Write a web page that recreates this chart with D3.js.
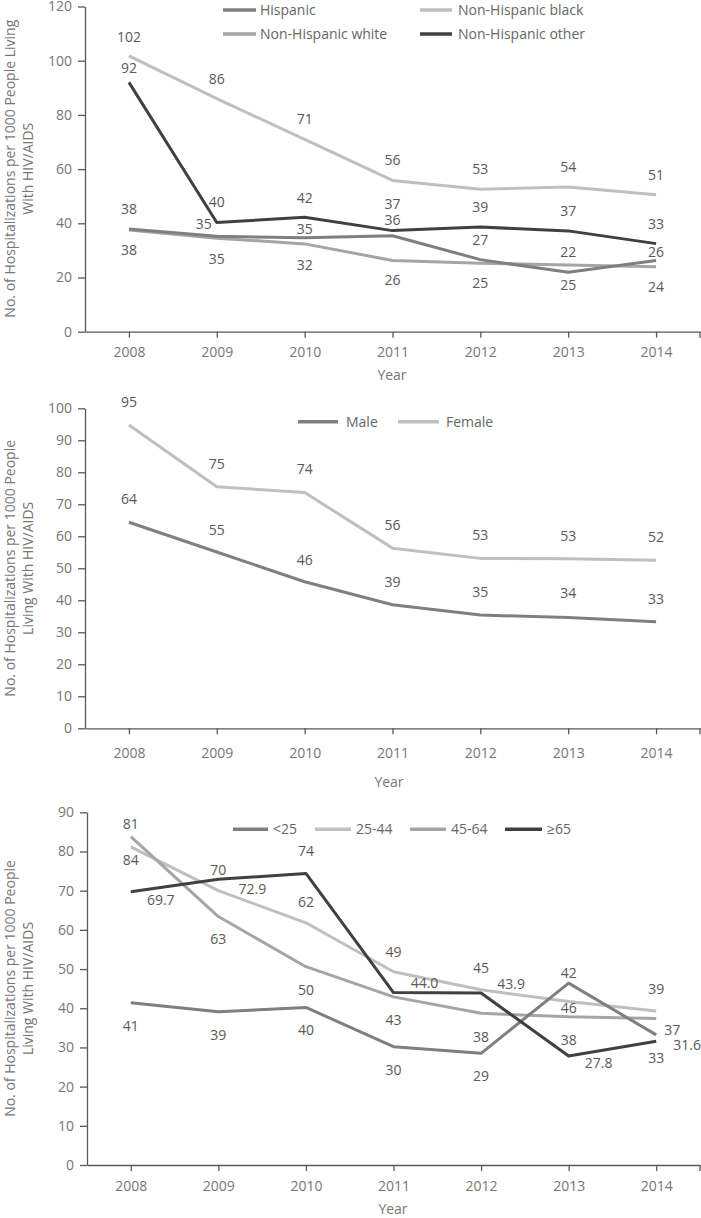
<!DOCTYPE html>
<html>
<head>
<meta charset="utf-8">
<script src="https://cdn.jsdelivr.net/npm/d3@7/dist/d3.min.js"></script>
<style>
  html, body { margin: 0; padding: 0; background: #fff; }
  svg { display: block; font-family: "Open Sans", "DejaVu Sans", sans-serif; }
</style>
</head>
<body>
<svg id="chart" width="701" height="1218"></svg>
<script>
// ---------------- DATA ----------------
const years = ["2008", "2009", "2010", "2011", "2012", "2013", "2014"];

// Panel 1: race / ethnicity
const raceSeries = ["Hispanic", "Non-Hispanic black", "Non-Hispanic white", "Non-Hispanic other"];
const hispanic        = [37.9, 35.2, 34.7, 35.4, 26.6, 21.9, 26.3];
const nhBlack         = [101.8, 86.0, 71.0, 55.8, 52.6, 53.4, 50.5];
const nhWhite         = [37.5, 34.5, 32.4, 26.3, 25.3, 24.6, 24.0];
const nhOther         = [92.0, 40.3, 42.2, 37.3, 38.6, 37.2, 32.5];
const hispanicLabels  = ["38", "35", "35", "36", "27", "22", "26"];
const nhBlackLabels   = ["102", "86", "71", "56", "53", "54", "51"];
const nhWhiteLabels   = ["38", "35", "32", "26", "25", "25", "24"];
const nhOtherLabels   = ["92", "40", "42", "37", "39", "37", "33"];
const raceTicks = [0, 20, 40, 60, 80, 100, 120];

// Panel 2: sex
const sexSeries = ["Male", "Female"];
const male          = [64.4, 55.1, 45.8, 38.6, 35.4, 34.6, 33.3];
const female        = [94.8, 75.5, 73.7, 56.3, 53.1, 53.0, 52.5];
const maleLabels    = ["64", "55", "46", "39", "35", "34", "33"];
const femaleLabels  = ["95", "75", "74", "56", "53", "53", "52"];
const sexTicks = [0, 10, 20, 30, 40, 50, 60, 70, 80, 90, 100];

// Panel 3: age
const ageSeries = ["<25", "25-44", "45-64", "\u226565"];
const ageU25      = [41.4, 39.1, 40.2, 30.2, 28.5, 46.4, 33.2];
const age2544     = [81.2, 70.0, 61.8, 49.3, 44.7, 41.7, 39.3];
const age4564     = [83.8, 63.4, 50.6, 42.9, 38.7, 37.8, 37.4];
const age65       = [69.7, 72.9, 74.4, 44.0, 43.9, 27.8, 31.6];
const ageU25Labels  = ["41", "39", "40", "30", "29", "46", "33"];
const age2544Labels = ["84", "70", "62", "49", "45", "42", "39"];
const age4564Labels = ["81", "63", "50", "43", "38", "38", "37"];
const age65Labels   = ["69.7", "72.9", "74", "44.0", "43.9", "27.8", "31.6"];
const ageTicks = [0, 10, 20, 30, 40, 50, 60, 70, 80, 90];

// ---------------- LAYOUT / STYLE (kept apart from data) ----------------
const C_MID = "#7f7f7f", C_LIGHT = "#bfbfbf", C_MID2 = "#a5a5a5", C_DARK = "#404040";

const panels = [
  {
    left: 85, right: 700, top: 6.5, bottom: 331.7, yMax: 120, ticks: raceTicks,
    xLabelY: 352.5, yearY: 375.5, yearX: 392,
    titleLines: ["No. of Hospitalizations per 1000 People Living", "With HIV/AIDS"],
    titleX: [10, 28], titleY: 168.7,
    series: [
      { name: raceSeries[0], values: hispanic, labels: hispanicLabels, color: C_MID,
        off: [[0,-20],[-13,-12],[0,-9],[0,-16],[0,-20],[0,-20],[0,-8]] },
      { name: raceSeries[1], values: nhBlack, labels: nhBlackLabels, color: C_LIGHT,
        off: [[0,-19],[0,-20],[0,-20],[0,-20],[0,-20],[0,-20],[0,-20]] },
      { name: raceSeries[2], values: nhWhite, labels: nhWhiteLabels, color: C_MID2,
        off: [[0,20],[0,21],[0,21],[0,20],[0,20],[0,20],[0,20]] },
      { name: raceSeries[3], values: nhOther, labels: nhOtherLabels, color: C_DARK,
        off: [[0,-14],[0,-20],[0,-19],[0,-27],[0,-20],[0,-20],[0,-20]] }
    ],
    drawOrder: [1, 2, 0, 3],
    legend: [
      { s: 0, x1: 223, x2: 256, tx: 260, y: 10 },
      { s: 1, x1: 420, x2: 452, tx: 458, y: 10 },
      { s: 2, x1: 223, x2: 256, tx: 260, y: 34 },
      { s: 3, x1: 420, x2: 452, tx: 458, y: 34 }
    ]
  },
  {
    left: 85, right: 700, top: 408.3, bottom: 728.3, yMax: 100, ticks: sexTicks,
    xLabelY: 753.3, yearY: 781.7, yearX: 389,
    titleLines: ["No. of Hospitalizations per 1000 People", "Living With HIV/AIDS"],
    titleX: [10, 28], titleY: 568.3,
    series: [
      { name: sexSeries[0], values: male, labels: maleLabels, color: C_MID,
        off: [[0,-23],[0,-22],[0,-22],[0,-23],[0,-23],[0,-24],[0,-23]] },
      { name: sexSeries[1], values: female, labels: femaleLabels, color: C_LIGHT,
        off: [[0,-23],[0,-23],[0,-23],[0,-23],[0,-23],[0,-23],[0,-23]] }
    ],
    drawOrder: [1, 0],
    legend: [
      { s: 0, x1: 298, x2: 338, tx: 346, y: 421.7 },
      { s: 1, x1: 398, x2: 439, tx: 446, y: 421.7 }
    ]
  },
  {
    left: 87, right: 700, top: 812.3, bottom: 1165, yMax: 90, ticks: ageTicks,
    xLabelY: 1186, yearY: 1209.5, yearX: 393,
    titleLines: ["No. of Hospitalizations per 1000 People", "Living With HIV/AIDS"],
    titleX: [10, 28], titleY: 988.5,
    series: [
      { name: ageSeries[0], values: ageU25, labels: ageU25Labels, color: C_MID,
        off: [[0,23],[0,23],[0,23],[0,23],[0,23],[0,25],[0,23]] },
      { name: ageSeries[1], values: age2544, labels: age2544Labels, color: C_LIGHT,
        off: [[0,13],[0,-21],[0,-21],[0,-20],[0,-22],[0,-28],[0,-22]] },
      { name: ageSeries[2], values: age4564, labels: age4564Labels, color: C_MID2,
        off: [[0,-12],[0,23],[0,23],[0,23],[0,24],[0,23],[16,12]] },
      { name: ageSeries[3], values: age65, labels: age65Labels, color: C_DARK,
        off: [[30,8],[34,10],[0,-22],[31,-9],[30,-9],[30,7],[31,4]] }
    ],
    drawOrder: [1, 2, 0, 3],
    legend: [
      { s: 0, x1: 233, x2: 268, tx: 273, y: 829.3 },
      { s: 1, x1: 315, x2: 351, tx: 356, y: 829.3 },
      { s: 2, x1: 410, x2: 446, tx: 451, y: 829.3 },
      { s: 3, x1: 505, x2: 542, tx: 547, y: 829.3 }
    ]
  }
];

// ---------------- DRAW ----------------
const svg = d3.select("#chart");
const AXIS_COLOR = "#595959";
const TICK_TEXT = "#767676";
const LABEL_TEXT = "#595959";
const FONT = 14;

panels.forEach(p => {
  const g = svg.append("g");
  const x = d3.scalePoint().domain(years).range([p.left, p.right]).padding(0.5);
  const y = d3.scaleLinear().domain([0, p.yMax]).range([p.bottom, p.top]);

  // y axis
  const yAxis = g.append("g")
    .attr("transform", `translate(${p.left},0)`)
    .call(d3.axisLeft(y).tickValues(p.ticks).tickSize(7).tickSizeOuter(0).tickPadding(6));
  yAxis.select(".domain").attr("stroke", AXIS_COLOR).attr("stroke-width", 1.3);
  yAxis.selectAll(".tick line").attr("stroke", AXIS_COLOR).attr("stroke-width", 1.3);
  yAxis.selectAll(".tick text").attr("fill", TICK_TEXT).style("font-size", FONT + "px")
    .style("font-family", '"Open Sans", sans-serif');

  // x axis
  const xAxis = g.append("g")
    .attr("transform", `translate(0,${p.bottom})`)
    .call(d3.axisBottom(x).tickSize(6).tickSizeOuter(0).tickPadding(0));
  xAxis.select(".domain").attr("stroke", AXIS_COLOR).attr("stroke-width", 1.3);
  xAxis.selectAll(".tick line").attr("stroke", AXIS_COLOR).attr("stroke-width", 1.3);
  xAxis.selectAll(".tick text").attr("fill", TICK_TEXT).style("font-size", FONT + "px")
    .style("font-family", '"Open Sans", sans-serif')
    .attr("y", p.xLabelY - p.bottom).attr("dy", "0.35em");
  // end tick at the right edge of the category axis
  xAxis.append("line")
    .attr("x1", x.range()[1]).attr("x2", x.range()[1])
    .attr("y1", 0).attr("y2", 6)
    .attr("stroke", AXIS_COLOR).attr("stroke-width", 1.3);

  // axis titles
  g.append("text")
    .attr("x", p.yearX).attr("y", p.yearY).attr("dy", "0.35em")
    .attr("text-anchor", "middle").attr("fill", TICK_TEXT)
    .style("font-size", FONT + "px").text("Year");

  p.titleLines.forEach((t, i) => {
    g.append("text")
      .attr("transform", `translate(${p.titleX[i]},${p.titleY}) rotate(-90)`)
      .attr("text-anchor", "middle").attr("dy", "0.35em")
      .attr("fill", TICK_TEXT).style("font-size", FONT + "px").text(t);
  });

  // lines
  const line = d3.line().x((d, i) => x(years[i])).y(d => y(d));
  p.drawOrder.forEach(si => {
    const s = p.series[si];
    g.append("path")
      .datum(s.values)
      .attr("d", line)
      .attr("fill", "none")
      .attr("stroke", s.color)
      .attr("stroke-width", 3)
      .attr("stroke-linejoin", "round");
  });

  // data labels
  p.series.forEach(s => {
    g.append("g").selectAll("text")
      .data(s.values)
      .join("text")
      .attr("x", (d, i) => x(years[i]) + s.off[i][0])
      .attr("y", (d, i) => y(d) + s.off[i][1])
      .attr("dy", "0.35em")
      .attr("text-anchor", "middle")
      .attr("fill", LABEL_TEXT)
      .style("font-size", FONT + "px")
      .text((d, i) => s.labels[i]);
  });

  // legend
  const lg = g.append("g");
  p.legend.forEach(L => {
    const s = p.series[L.s];
    lg.append("line")
      .attr("x1", L.x1).attr("x2", L.x2).attr("y1", L.y).attr("y2", L.y)
      .attr("stroke", s.color).attr("stroke-width", 3.5);
    lg.append("text")
      .attr("x", L.tx).attr("y", L.y).attr("dy", "0.35em")
      .attr("fill", "#666").style("font-size", FONT + "px")
      .text(s.name);
  });
});
</script>
</body>
</html>
